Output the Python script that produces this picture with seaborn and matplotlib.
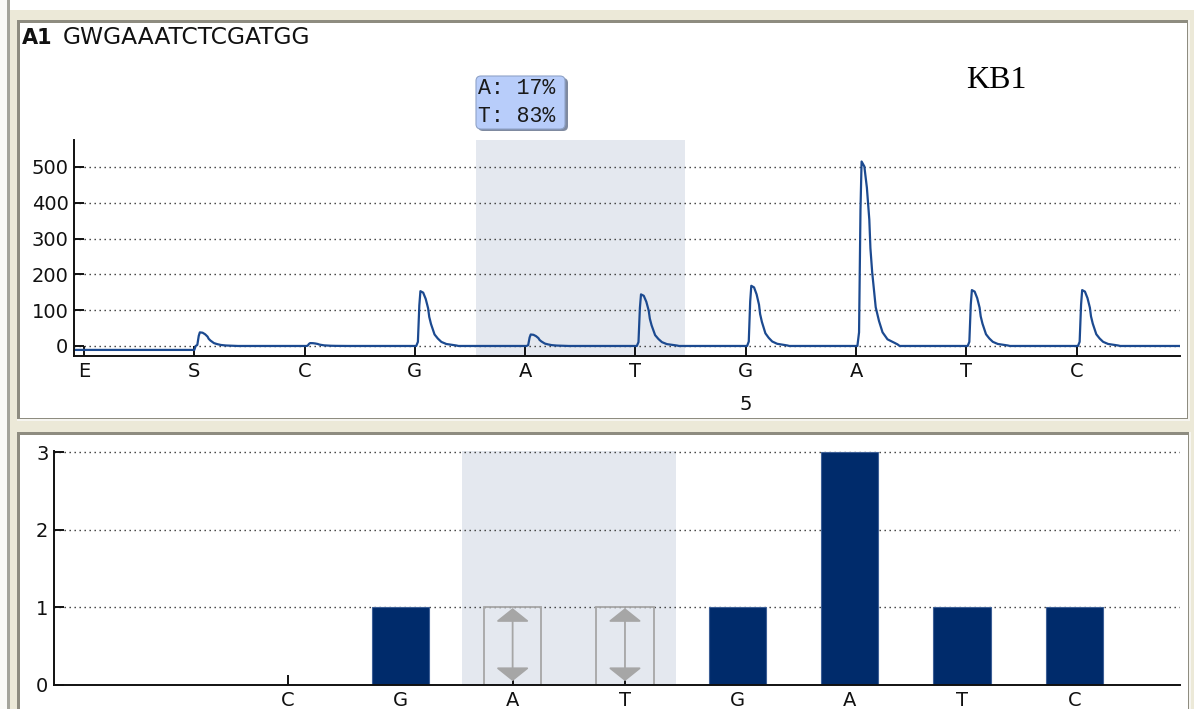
import matplotlib
matplotlib.use("Agg")
import numpy as np
import pandas as pd
import seaborn as sns
import matplotlib.pyplot as plt
from matplotlib.patches import Rectangle, FancyBboxPatch
from matplotlib.transforms import IdentityTransform

# ---------------- data ----------------
sample_label = "A1"
sequence = "GWGAAATCTCGATGG"
assay_name = "KB1"
dispensation = ["E", "S", "C", "G", "A", "T", "G", "A", "T", "C"]
peak_heights = [0, 38, 8, 153, 32, 144, 168, 515, 156, 156]
pre_signal = -11
# peak profile read from the tallest peak (offset in dispensation units, fraction of height)
peak_offsets = [0.012, 0.027, 0.040, 0.050, 0.075, 0.098, 0.120, 0.130, 0.146,
                0.178, 0.208, 0.240, 0.285, 0.375, 0.395]
peak_shape = [0.0, 0.074, 0.74, 1.0, 0.973, 0.858, 0.685, 0.53, 0.40,
              0.21, 0.135, 0.074, 0.036, 0.009, 0.0]
y_ticks_top = [0, 100, 200, 300, 400, 500]

hist_labels = ["C", "G", "A", "T", "G", "A", "T", "C"]
hist_pos = [2, 3, 4, 5, 6, 7, 8, 9]
hist_values = [0, 1, 1, 1, 1, 3, 1, 1]
hist_variable = [False, False, True, True, False, False, False, False]
y_ticks_bottom = [0, 1, 2, 3]
tooltip_lines = ["A: 17%", "T: 83%"]
variable_span = (3.55, 5.45)

# ---------------- figure ----------------
W, H = 1194, 709
sns.set_style("white")
plt.rcParams["font.family"] = ["DejaVu Sans"]
fig = plt.figure(figsize=(W / 100, H / 100), dpi=100)
fig.patch.set_facecolor("#ECE9D8")
IT = IdentityTransform()


def prect(x0, y0, x1, y1, color, z=0):
    fig.add_artist(Rectangle((x0, H - y1), x1 - x0, y1 - y0, transform=IT,
                             facecolor=color, edgecolor="none", zorder=z))


# window frame
prect(0, 0, W, 10, "#ffffff", -5)
prect(0, 0, 7, H, "#fafaf8", -5)
prect(7, 0, 10, H, "#a4a49c", -5)
# top panel
prect(17, 20, 1190, 421, "#f6f5f0", -4)
prect(17, 20, 1188, 419, "#8e8c80", -4)
prect(20, 23, 1187, 418, "#ffffff", -3)
# bottom panel
prect(17, 432, 1191, H, "#f6f5f0", -4)
prect(17, 432, 1189, H, "#8e8c80", -4)
prect(20, 435, 1188, H, "#ffffff", -3)

dot_style = (0, (1, 2.6))
trace_color = "#1c4a90"
bar_color = "#002b6b"
span_color = "#e4e8ef"

# ---------------- top: pyrogram trace ----------------
ax1 = fig.add_axes([74 / W, 1 - 356 / H, (1180 - 74) / W, (356 - 140) / H])
ax1.set_facecolor("none")
x_lo, x_hi = -0.091, 9.937
ax1.set_xlim(x_lo, x_hi)
ax1.set_ylim(-28, 575)

ax1.axvspan(*variable_span, color=span_color, zorder=0, lw=0)

xs = [x_lo, 1.0]
ys = [pre_signal, pre_signal]
for i, h in enumerate(peak_heights):
    if i == 0:
        continue
    for dx, f in zip(peak_offsets, peak_shape):
        xs.append(i + dx)
        ys.append(h * f)
xs.append(x_hi)
ys.append(0)
trace = pd.DataFrame({"x": xs, "y": ys})
sns.lineplot(data=trace, x="x", y="y", sort=False, estimator=None,
             color=trace_color, linewidth=1.6, ax=ax1, zorder=4)

ax1.set_yticks(y_ticks_top)
ax1.set_xticks(range(len(dispensation)))
ax1.set_xticklabels(dispensation)
ax1.grid(axis="y", color="#333333", linestyle=dot_style, linewidth=1.0, zorder=1)
ax1.grid(axis="x", visible=False)
ax1.set_axisbelow(False)
ax1.set_xlabel("")
ax1.set_ylabel("")

# ---------------- bottom: histogram ----------------
ax2 = fig.add_axes([54 / W, 1 - 685 / H, (1180 - 54) / W, (685 - 450.5) / H])
ax2.set_facecolor("none")
ax2.axvspan(*variable_span, color=span_color, zorder=0, lw=0)

hist = pd.DataFrame({"pos": hist_pos, "val": hist_values, "var": hist_variable})
solid = hist[~hist["var"]]
hollow = hist[hist["var"]]
sns.barplot(data=solid, x="pos", y="val", native_scale=True, width=0.51,
            color=bar_color, saturation=1, edgecolor="#3d5f96", linewidth=0.8,
            errorbar=None, ax=ax2, zorder=3)
sns.barplot(data=hollow, x="pos", y="val", native_scale=True, width=0.51,
            fill=False, color="#a6a6a6", linewidth=1.3,
            errorbar=None, ax=ax2, zorder=3)
for p, v in zip(hollow["pos"], hollow["val"]):
    ax2.annotate("", xy=(p, v * 0.05), xytext=(p, v * 0.99),
                 arrowprops=dict(arrowstyle="<|-|>,head_length=0.6,head_width=0.75",
                                 color="#a6a6a6", lw=1.3, shrinkA=0, shrinkB=0,
                                 mutation_scale=14), zorder=3)

ax2.set_xlim(-0.082, 9.94)
ax2.set_ylim(0, 3.02)
ax2.set_yticks(y_ticks_bottom)
ax2.set_xticks(hist_pos)
ax2.set_xticklabels(hist_labels)
ax2.grid(axis="y", color="#333333", linestyle=dot_style, linewidth=1.0, zorder=1)
ax2.grid(axis="x", visible=False)
ax2.set_xlabel("")
ax2.set_ylabel("")

for ax in (ax1, ax2):
    for s in ("top", "right"):
        ax.spines[s].set_visible(False)
    for s in ("left", "bottom"):
        ax.spines[s].set_color("#111111")
        ax.spines[s].set_linewidth(1.4)
        ax.spines[s].set_zorder(6)
    ax.tick_params(axis="both", direction="in", length=7.5, width=1.4,
                   color="#111111", labelsize=14, labelcolor="#111111", pad=4,
                   left=True, bottom=True)

# ---------------- texts ----------------
fig.text(22 / W, 1 - 38 / H, sample_label, fontsize=15, fontweight="bold",
         va="center", ha="left", color="#111111")
fig.text(63 / W, 1 - 38 / H, sequence, fontsize=16.8, va="center", ha="left",
         color="#111111")
fig.text(996 / W, 1 - 81 / H, assay_name, fontsize=23, family="Liberation Serif",
         va="center", ha="center", color="#000000")
fig.text(746 / W, 1 - 405 / H, "5", fontsize=14, va="center", ha="center",
         color="#111111")

# tooltip
fig.add_artist(FancyBboxPatch((478, H - 131), 90, 53, boxstyle="round,pad=0,rounding_size=5",
                              transform=IT, facecolor="#7f8aa0", edgecolor="none", zorder=5))
fig.add_artist(FancyBboxPatch((476, H - 129), 89, 53, boxstyle="round,pad=0,rounding_size=5",
                              transform=IT, facecolor="#b8cdfa", edgecolor="#8fa3c8",
                              linewidth=0.8, zorder=6))
for k, line in enumerate(tooltip_lines):
    fig.text(478 / W, 1 - (89 + 27 * k) / H, line, fontsize=15.5, family="Liberation Mono",
             va="center", ha="left", color="#1a1a1a", zorder=7)

fig.savefig("out.png", dpi=100, facecolor=fig.get_facecolor())
